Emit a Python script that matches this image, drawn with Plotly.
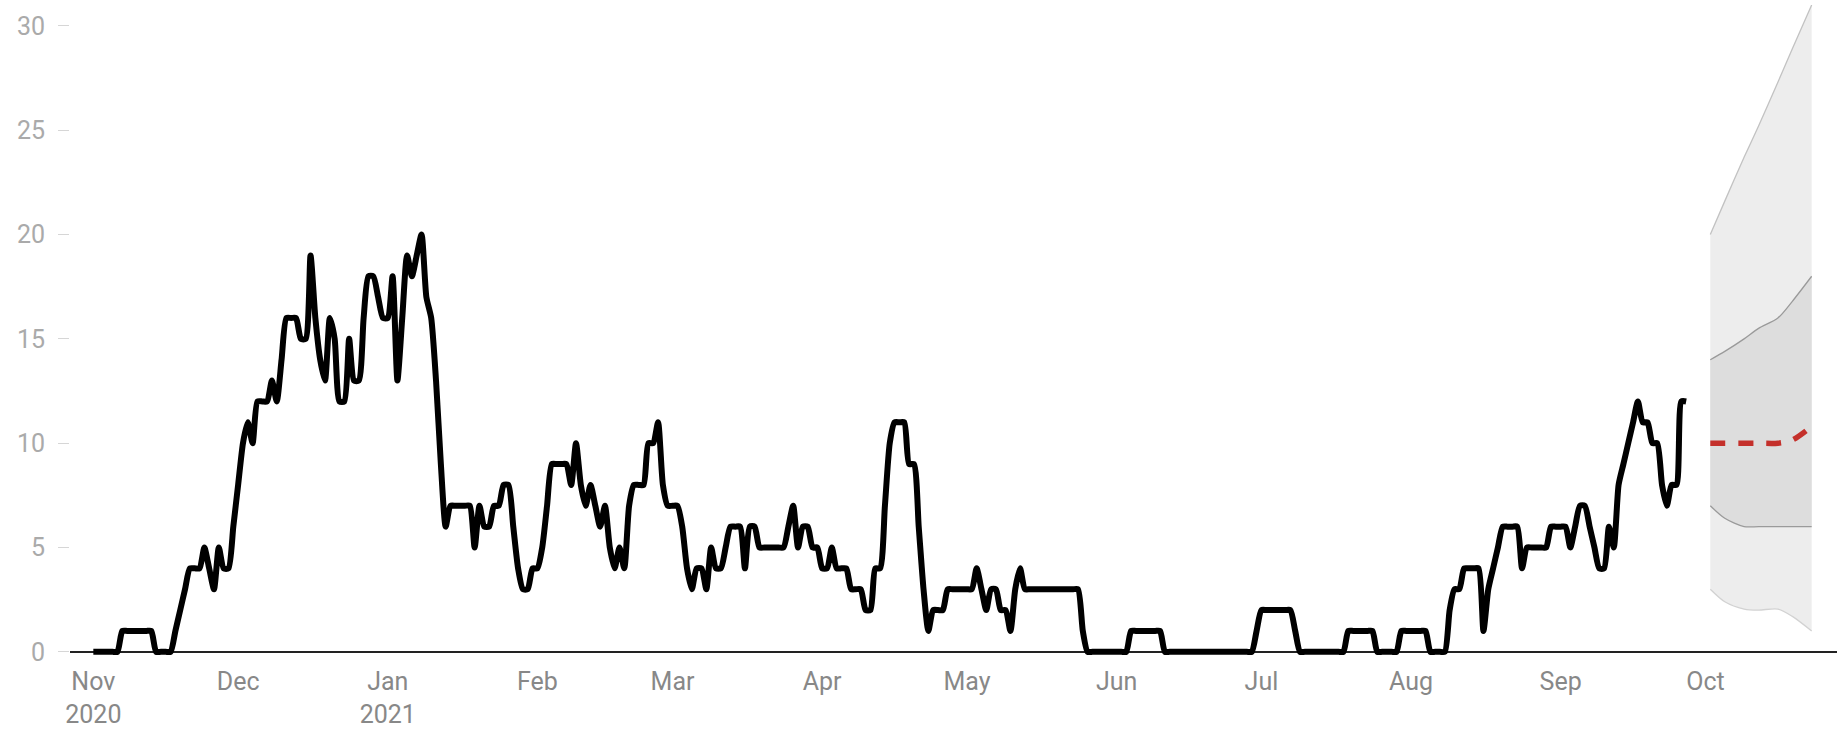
import plotly.graph_objects as go
import pandas as pd

# ---- observed daily values (start 2020-11-01) ----
start_date = "2020-11-01"
nov_2020 = [0, 0, 0, 0, 0, 0, 1, 1, 1, 1, 1, 1, 1, 0, 0, 0, 0, 1, 2, 3, 4, 4, 4, 5, 4, 3, 5, 4, 4, 6]
dec_2020 = [8, 10, 11, 10, 12, 12, 12, 13, 12, 14, 16, 16, 16, 15, 15, 19, 16, 14, 13, 16, 15, 12, 12, 15, 13, 13, 16, 18, 18, 17, 16]
jan_2021 = [16, 18, 13, 16, 19, 18, 19, 20, 17, 16, 13, 9, 6, 7, 7, 7, 7, 7, 5, 7, 6, 6, 7, 7, 8, 8, 6, 4, 3, 3, 4]
feb_2021 = [4, 5, 7, 9, 9, 9, 9, 8, 10, 8, 7, 8, 7, 6, 7, 5, 4, 5, 4, 7, 8, 8, 8, 10, 10, 11, 8, 7]
mar_2021 = [7, 7, 6, 4, 3, 4, 4, 3, 5, 4, 4, 5, 6, 6, 6, 4, 6, 6, 5, 5, 5, 5, 5, 5, 6, 7, 5, 6, 6, 5, 5]
apr_2021 = [4, 4, 5, 4, 4, 4, 3, 3, 3, 2, 2, 4, 4, 7, 10, 11, 11, 11, 9, 9, 6, 3, 1, 2, 2, 2, 3, 3, 3, 3]
may_2021 = [3, 3, 4, 3, 2, 3, 3, 2, 2, 1, 3, 4, 3, 3, 3, 3, 3, 3, 3, 3, 3, 3, 3, 3, 1, 0, 0, 0, 0, 0, 0]
jun_2021 = [0, 0, 0, 1, 1, 1, 1, 1, 1, 1, 0, 0, 0, 0, 0, 0, 0, 0, 0, 0, 0, 0, 0, 0, 0, 0, 0, 0, 0, 1]
jul_2021 = [2, 2, 2, 2, 2, 2, 2, 1, 0, 0, 0, 0, 0, 0, 0, 0, 0, 0, 1, 1, 1, 1, 1, 1, 0, 0, 0, 0, 0, 1, 1]
aug_2021 = [1, 1, 1, 1, 0, 0, 0, 0, 2, 3, 3, 4, 4, 4, 4, 1, 3, 4, 5, 6, 6, 6, 6, 4, 5, 5, 5, 5, 5, 6, 6]
sep_2021 = [6, 6, 5, 6, 7, 7, 6, 5, 4, 4, 6, 5, 8, 9, 10, 11, 12, 11, 11, 10, 10, 8, 7, 8, 8, 12, 12]

# ---- forecast (October 2021) ----
fc_dates = ["2021-10-02", "2021-10-05", "2021-10-09", "2021-10-12", "2021-10-16", "2021-10-19", "2021-10-23"]
fc_outer_upper = [20.0, 21.6, 23.7, 25.2, 27.3, 28.9, 31.0]
fc_inner_upper = [14.0, 14.4, 15.0, 15.5, 16.0, 16.8, 18.0]
fc_median = [10.0, 10.0, 10.0, 10.0, 10.0, 10.15, 10.8]
fc_inner_lower = [7.0, 6.4, 6.0, 6.0, 6.0, 6.0, 6.0]
fc_outer_lower = [3.0, 2.4, 2.05, 2.0, 2.05, 1.7, 1.0]

# ---- axis ticks ----
tick_dates = ["2020-11-01", "2020-12-01", "2021-01-01", "2021-02-01", "2021-03-01", "2021-04-01",
              "2021-05-01", "2021-06-01", "2021-07-01", "2021-08-01", "2021-09-01", "2021-10-01"]
tick_labels = ["Nov<br>2020", "Dec", "Jan<br>2021", "Feb", "Mar", "Apr",
               "May", "Jun", "Jul", "Aug", "Sep", "Oct"]
y_ticks = [0, 5, 10, 15, 20, 25, 30]

values = nov_2020 + dec_2020 + jan_2021 + feb_2021 + mar_2021 + apr_2021 + \
    may_2021 + jun_2021 + jul_2021 + aug_2021 + sep_2021
dates = pd.date_range(start_date, periods=len(values), freq="D")

FONT = "Roboto, 'Open Sans', Arial, sans-serif"

fig = go.Figure()

# outer band
fig.add_trace(go.Scatter(x=fc_dates, y=fc_outer_lower, mode="lines",
                         line=dict(color="#d2d2d2", width=1.3, shape="spline", smoothing=0.8),
                         hoverinfo="skip"))
fig.add_trace(go.Scatter(x=fc_dates, y=fc_outer_upper, mode="lines", fill="tonexty",
                         fillcolor="#ededed",
                         line=dict(color="#c2c2c2", width=1.3, shape="spline", smoothing=0.8),
                         hoverinfo="skip"))
# inner band
fig.add_trace(go.Scatter(x=fc_dates, y=fc_inner_lower, mode="lines",
                         line=dict(color="#9a9a9a", width=1.3, shape="spline", smoothing=0.8),
                         hoverinfo="skip"))
fig.add_trace(go.Scatter(x=fc_dates, y=fc_inner_upper, mode="lines", fill="tonexty",
                         fillcolor="#dddddd",
                         line=dict(color="#9a9a9a", width=1.3, shape="spline", smoothing=0.8),
                         hoverinfo="skip"))
# median forecast
fig.add_trace(go.Scatter(x=fc_dates, y=fc_median, mode="lines",
                         line=dict(color="#c4302b", width=5.5, dash="15px,13px",
                                   shape="spline", smoothing=0.8),
                         hoverinfo="skip"))
# observed
fig.add_trace(go.Scatter(x=dates, y=values, mode="lines",
                         line=dict(color="#000000", width=6, shape="spline", smoothing=0.6)))

fig.update_layout(
    width=1841, height=729,
    margin=dict(l=70, r=4, t=5, b=73),
    paper_bgcolor="white", plot_bgcolor="white",
    showlegend=False,
    font=dict(family=FONT),
)
fig.update_xaxes(
    type="date", automargin=False,
    range=["2020-10-27 04:00", "2021-10-28 06:00"],
    tickmode="array", tickvals=tick_dates, ticktext=tick_labels,
    showgrid=False, showline=False, zeroline=False, ticks="",
    tickfont=dict(family=FONT, size=25, color="#888888"),
    ticklabelstandoff=8,
)
fig.update_yaxes(
    automargin=False,
    range=[-0.2, 31],
    tickmode="array", tickvals=y_ticks,
    showgrid=False, showline=False,
    zeroline=True, zerolinecolor="#222222", zerolinewidth=1.5,
    ticks="outside", ticklen=11, tickcolor="#d6d6d6", tickwidth=1,
    tickfont=dict(family=FONT, size=25, color="#aaaaaa"),
    ticklabelstandoff=8,
)

fig.write_html("out.html", config={"displayModeBar": False},
               post_script="document.body.style.margin='0';document.body.style.overflow='hidden';")
